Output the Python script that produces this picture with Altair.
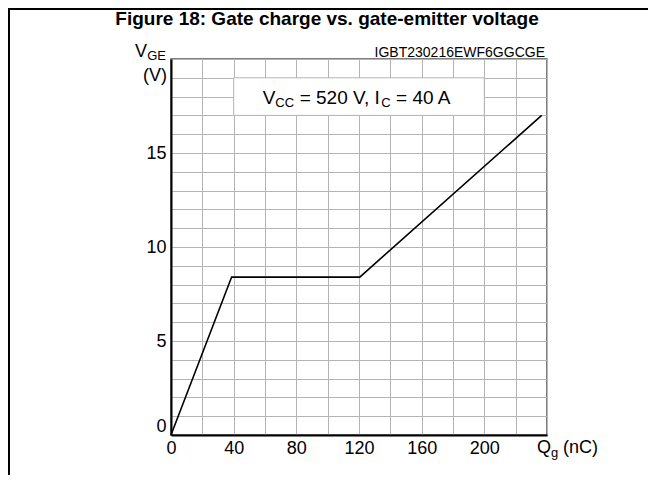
import altair as alt
import pandas as pd

# ---- data ----
qg_nc = [0, 38.7, 120.5, 236.6]
vge_v = [0, 8.4, 8.4, 17.0]

x_grid = list(range(0, 241, 20))
y_grid = list(range(0, 21, 1))
x_labels = [0, 40, 80, 120, 160, 200]
y_labels = [0, 5, 10, 15]

title_text = "Figure 18: Gate charge vs. gate-emitter voltage"
code_text = "IGBT230216EWF6GGCGE"
box_x = [40, 200]
box_y = [17, 19]
ann_pieces = ["V", "CC", "= 520 V, I", "C", "= 40 A"]
ann_sub = [False, True, False, True, False]
ann_dx = [29, 41.7, 66.0, 147.7, 162.4]
xt_pieces = ["Q", "g", "(nC)"]
xt_sub = [False, True, False]
xt_dx = [-10, 4, 16]
yt_pieces = ["V", "GE", "(V)"]
yt_size = [18, 13, 18]
yt_dx = [-24, -5, -4]
yt_dy = [-2, 1, 22]

FONT = "Liberation Sans"
W, H = 376, 376

xs = alt.Scale(domain=[0, 240], nice=False, zero=False)
ys = alt.Scale(domain=[0, 20], nice=False, zero=False)

x_axis = alt.Axis(
    values=x_grid, title=None, ticks=False, grid=True, gridColor="#b4b4b4", gridWidth=1,
    domainColor="black", domainWidth=2, labelFont=FONT, labelFontSize=18, labelColor="black",
    labelPadding=4, labelFlush=False, labelOverlap=False,
    labelExpr=f"indexof({x_labels}, datum.value) >= 0 ? datum.label : ''",
)
y_axis = alt.Axis(
    values=y_grid, title=None, ticks=False, grid=True, gridColor="#b4b4b4", gridWidth=1,
    domainColor="black", domainWidth=2, labelFont=FONT, labelFontSize=18, labelColor="black",
    labelPadding=5, labelFlush=True, labelOverlap=False,
    labelExpr=f"indexof({y_labels}, datum.value) >= 0 ? datum.label : ''",
)

X = alt.X("x:Q", scale=xs, axis=x_axis)
Y = alt.Y("y:Q", scale=ys, axis=y_axis)

curve_df = pd.DataFrame({"x": qg_nc, "y": vge_v})
line = alt.Chart(curve_df).mark_line(color="black", strokeWidth=1.6).encode(x=X, y=Y)

box_df = pd.DataFrame({"x": [box_x[0]], "x2": [box_x[1]], "y": [box_y[0]], "y2": [box_y[1]]})
box = alt.Chart(box_df).mark_rect(fill="white", stroke="#b4b4b4", strokeWidth=1).encode(
    x=X, x2="x2:Q", y=Y, y2="y2:Q"
)

layers = [box, line]

# annotation text
for t, sub, dx in zip(ann_pieces, ann_sub, ann_dx):
    d = pd.DataFrame({"x": [box_x[0]], "y": [box_y[0]], "t": [t]})
    layers.append(
        alt.Chart(d).mark_text(
            font=FONT, fontSize=13 if sub else 19, align="left", baseline="alphabetic",
            dx=dx, dy=-8 if sub else -11, color="black",
        ).encode(x=X, y=Y, text="t:N")
    )

# x axis title (Q_g (nC))
for t, sub, dx in zip(xt_pieces, xt_sub, xt_dx):
    d = pd.DataFrame({"x": [240], "y": [0], "t": [t]})
    layers.append(
        alt.Chart(d).mark_text(
            font=FONT, fontSize=13 if sub else 18, align="left", baseline="alphabetic",
            dx=dx, dy=22 if sub else 18, color="black",
        ).encode(x=X, y=Y, text="t:N")
    )

# y axis title (V_GE (V))
for t, fs, dx, dy in zip(yt_pieces, yt_size, yt_dx, yt_dy):
    d = pd.DataFrame({"x": [0], "y": [20], "t": [t]})
    layers.append(
        alt.Chart(d).mark_text(
            font=FONT, fontSize=fs, align="right", baseline="alphabetic",
            dx=dx, dy=dy, color="black",
        ).encode(x=X, y=Y, text="t:N")
    )

# code label
d = pd.DataFrame({"x": [240], "y": [20], "t": [code_text]})
layers.append(
    alt.Chart(d).mark_text(
        font=FONT, fontSize=14, align="right", baseline="alphabetic", dx=-2, dy=-2, color="black"
    ).encode(x=X, y=Y, text="t:N")
)

# figure title
d = pd.DataFrame({"x": [0], "y": [20], "t": [title_text]})
layers.append(
    alt.Chart(d).mark_text(
        font=FONT, fontSize=19, fontWeight="bold", align="center", baseline="alphabetic",
        color="black",
    ).encode(x=alt.value(156), y=alt.value(-34), text="t:N")
)

# outer frame (left and top)
frame_df = pd.DataFrame({"x": [0], "y": [0]})
layers.append(
    alt.Chart(frame_df).mark_rule(color="black", strokeWidth=2).encode(
        x=alt.value(-162), y=alt.value(-51), y2=alt.value(420)
    )
)
layers.append(
    alt.Chart(frame_df).mark_rule(color="black", strokeWidth=2).encode(
        x=alt.value(-163), x2=alt.value(480), y=alt.value(-50)
    )
)

chart = (
    alt.layer(*layers)
    .properties(
        width=W,
        height=H,
        autosize=alt.AutoSizeParams(type="none"),
        padding={"left": 163, "top": 51, "right": 101, "bottom": 40},
        background="white",
    )
    .configure_view(stroke="#555555", strokeWidth=1.5)
)

chart.save("out.html", embed_options={"renderer": "svg", "actions": False})
